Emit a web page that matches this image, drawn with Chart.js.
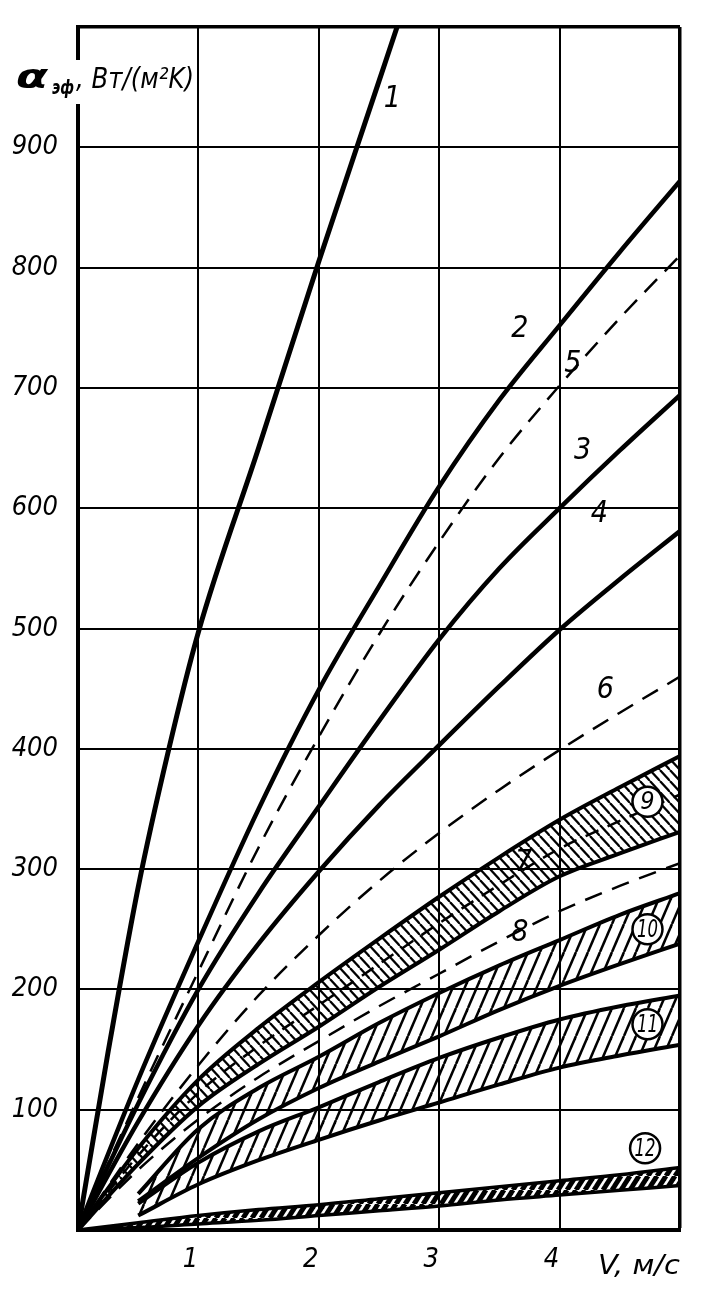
<!DOCTYPE html>
<html>
<head>
<meta charset="utf-8">
<script src="https://cdn.jsdelivr.net/npm/chart.js@4.4.1/dist/chart.umd.min.js"></script>
<style>
  body { margin: 0; background: #fff; }
</style>
</head>
<body>
<canvas id="chart" width="707" height="1289"></canvas>
<script>
// velocity points (m/s)
var vAll = [0, 0.5, 1, 1.5, 2, 2.5, 3, 3.5, 4, 4.5, 5];
var vCurve1 = [0, 0.25, 0.5, 0.75, 1, 1.5, 2, 2.5, 2.65];
var vBand = [0.5, 1, 1.5, 2, 2.5, 3, 3.5, 4, 4.5, 5];

// effective heat transfer coefficient, W/(m2 K)
var alpha1 = [0, 148, 285, 398, 497, 650, 805, 955, 1000];
var alpha2 = [0, 125, 240, 350, 449, 535, 618, 690, 752, 813, 872];
var alpha3 = [0, 105, 200, 280, 352, 423, 491, 550, 600, 648, 694];
var alpha4 = [0, 90, 170, 238, 298, 353, 403, 452, 499, 541, 581];
var alpha5 = [0, 110, 215, 318, 410, 495, 572, 642, 702, 758, 810];
var alpha6 = [0, 72, 137, 195, 245, 290, 330, 366, 399, 430, 460];
var alpha7 = [0, 62, 114, 153, 187, 221, 255, 287, 317, 340, 362];
var alpha8 = [0, 50, 92, 127, 157, 186, 213, 240, 265, 286, 305];
var band9Top = [0, 68, 125, 168, 206, 242, 277, 310, 341, 368, 394];
var band9Bottom = [0, 55, 103, 138, 169, 202, 233, 265, 294, 313, 331];
var band10Top = [30, 84, 118, 144, 172, 197, 220, 241, 262, 280];
var band10Bottom = [24, 60, 92, 118, 140, 161, 183, 203, 221, 238];
var band11Top = [22, 56, 82, 102, 123, 143, 160, 175, 186, 195];
var band11Bottom = [12, 38, 58, 75, 91, 106, 121, 135, 145, 154];
var band12Top = [0, 6, 12, 17, 21, 26, 31, 36, 41, 46, 52];
var band12Bottom = [0, 2, 5, 8, 12, 16, 20, 25, 29, 33, 37];

var yTicks = [100, 200, 300, 400, 500, 600, 700, 800, 900];
var xTicks = [1, 2, 3, 4];

// curve numbers and where they sit (v, alpha)
var labelText = ['1', '2', '5', '3', '4', '6', '7', '8'];
var labelV = [2.61, 3.67, 4.11, 4.19, 4.33, 4.38, 3.7, 3.67];
var labelA = [940, 749, 720, 647, 595, 449, 305, 247];
var ringText = ['9', '10', '11', '12'];
var ringV = [4.73, 4.73, 4.73, 4.71];
var ringA = [356, 250, 171, 68];

var FONT = "'DejaVu Sans Condensed', 'DejaVu Sans', sans-serif";

function zip(xs, ys) {
    return xs.map(function (x, i) { return { x: x, y: ys[i] }; });
}

function makeHatch(w, h, lineW, dir) {
    var c = document.createElement('canvas');
    c.width = w;
    c.height = h;
    var g = c.getContext('2d');
    g.strokeStyle = '#000';
    g.lineWidth = lineW;
    [-w, 0, w].forEach(function (dx) {
        g.beginPath();
        if (dir > 0) {
            g.moveTo(dx, h);
            g.lineTo(dx + w, 0);
        } else {
            g.moveTo(dx, 0);
            g.lineTo(dx + w, h);
        }
        g.stroke();
    });
    return g.createPattern(c, 'repeat');
}

var hatchBack = makeHatch(10, 11, 2.2, -1);
var hatchSteep = makeHatch(12, 28, 2.5, 1);
var hatchDense = makeHatch(9, 14, 5, 1);

function line(data, width, dash, extra) {
    var ds = {
        data: data,
        borderColor: '#000',
        borderWidth: width,
        borderDash: dash || [],
        pointRadius: 0,
        cubicInterpolationMode: 'monotone',
        fill: false
    };
    for (var k in extra) ds[k] = extra[k];
    return ds;
}

var datasets = [
    line(zip(vAll, band9Top), 4, null, { fill: '+1', backgroundColor: hatchBack }),
    line(zip(vAll, band9Bottom), 4),
    line(zip(vBand, band10Top), 4, null, { fill: '+1', backgroundColor: hatchSteep }),
    line(zip(vBand, band10Bottom), 4),
    line(zip(vBand, band11Top), 4, null, { fill: '+1', backgroundColor: hatchSteep }),
    line(zip(vBand, band11Bottom), 4),
    line(zip(vAll, band12Top), 3.5, null, { fill: '+1', backgroundColor: hatchDense }),
    line(zip(vAll, band12Bottom), 3.5),
    line(zip(vAll, alpha7), 2.5, [14, 10]),
    line(zip(vCurve1, alpha1), 5),
    line(zip(vAll, alpha2), 4.5),
    line(zip(vAll, alpha3), 4.5),
    line(zip(vAll, alpha4), 4.5),
    line(zip(vAll, alpha5), 2.5, [18, 11]),
    line(zip(vAll, alpha6), 2.5, [18, 11]),
    line(zip(vAll, alpha8), 2.5, [18, 11])
];

// draws text squeezed horizontally to the given width, around x
function fitText(ctx, text, x, y, width, font) {
    ctx.save();
    ctx.font = font;
    var w = ctx.measureText(text).width;
    ctx.translate(x, y);
    ctx.scale(width / w, 1);
    ctx.fillText(text, 0, 0);
    ctx.restore();
}

var annotations = {
    id: 'annotations',
    afterDatasetsDraw: function (chart) {
        var ctx = chart.ctx;
        var xs = chart.scales.x, ys = chart.scales.y;
        ctx.save();
        ctx.fillStyle = '#000';
        ctx.textAlign = 'center';
        ctx.textBaseline = 'middle';
        ctx.font = 'italic 30px ' + FONT;
        for (var i = 0; i < labelText.length; i++) {
            ctx.fillText(labelText[i], xs.getPixelForValue(labelV[i]), ys.getPixelForValue(labelA[i]));
        }
        for (var j = 0; j < ringText.length; j++) {
            var px = xs.getPixelForValue(ringV[j]);
            var py = ys.getPixelForValue(ringA[j]);
            ctx.beginPath();
            ctx.arc(px, py, 15, 0, Math.PI * 2);
            ctx.fillStyle = '#fff';
            ctx.fill();
            ctx.lineWidth = 2.5;
            ctx.strokeStyle = '#000';
            ctx.stroke();
            ctx.fillStyle = '#000';
            if (ringText[j].length > 1) {
                fitText(ctx, ringText[j], px, py + 1, 21, 'italic 25px ' + FONT);
            } else {
                ctx.font = 'italic 25px ' + FONT;
                ctx.fillText(ringText[j], px, py + 1);
            }
        }
        ctx.restore();
    },
    afterDraw: function (chart) {
        var ctx = chart.ctx;
        ctx.save();
        // axis title sits on a white patch over the left axis
        ctx.fillStyle = '#fff';
        ctx.fillRect(70, 60, 126, 44);
        ctx.fillStyle = '#000';
        ctx.textBaseline = 'alphabetic';
        ctx.textAlign = 'left';
        fitText(ctx, 'α', 16, 88, 32, 'bold italic 34px ' + FONT);
        fitText(ctx, 'эф', 52, 94, 22, 'bold italic 20px ' + FONT);
        fitText(ctx, ', Вт/(м²K)', 76, 88, 118, 'italic 28px ' + FONT);
        // velocity axis title
        fitText(ctx, 'V, м/с', 598, 1274, 82, 'italic 27px ' + FONT);
        ctx.restore();
    }
};

new Chart(document.getElementById('chart'), {
    type: 'line',
    data: { datasets: datasets },
    plugins: [annotations],
    options: {
        responsive: false,
        animation: false,
        devicePixelRatio: 1,
        layout: { padding: { left: 0, right: 27, top: 27, bottom: 0 } },
        plugins: { legend: { display: false }, tooltip: { enabled: false } },
        scales: {
            x: {
                type: 'linear',
                min: 0,
                max: 5,
                afterFit: function (scale) {
                    scale.height = 59;
                    scale.paddingLeft = 0;
                    scale.paddingRight = 0;
                },
                afterBuildTicks: function (scale) {
                    scale.ticks = [0].concat(xTicks, [5]).map(function (v) { return { value: v }; });
                },
                ticks: {
                    color: '#000',
                    padding: 14,
                    maxRotation: 0,
                    autoSkip: false,
                    labelOffset: -8,
                    font: { family: FONT, size: 27, style: 'italic' },
                    callback: function (v) { return xTicks.indexOf(v) >= 0 ? String(v) : ''; }
                },
                grid: {
                    color: '#000',
                    drawTicks: false,
                    lineWidth: function (c) { return c.tick && c.tick.value === 5 ? 3.5 : 2; }
                },
                border: { color: '#000', width: 4 }
            },
            y: {
                min: 0,
                max: 1000,
                afterFit: function (scale) {
                    scale.width = 78;
                    scale.paddingTop = 0;
                    scale.paddingBottom = 0;
                },
                afterBuildTicks: function (scale) {
                    scale.ticks = [0].concat(yTicks, [1000]).map(function (v) { return { value: v }; });
                },
                ticks: {
                    color: '#000',
                    padding: 20,
                    autoSkip: false,
                    font: { family: FONT, size: 27, style: 'italic' },
                    callback: function (v) { return yTicks.indexOf(v) >= 0 ? String(v) : ''; }
                },
                grid: {
                    color: '#000',
                    drawTicks: false,
                    lineWidth: function (c) { return c.tick && c.tick.value === 1000 ? 3.5 : 2; }
                },
                border: { color: '#000', width: 4 }
            }
        }
    }
});
</script>
</body>
</html>
